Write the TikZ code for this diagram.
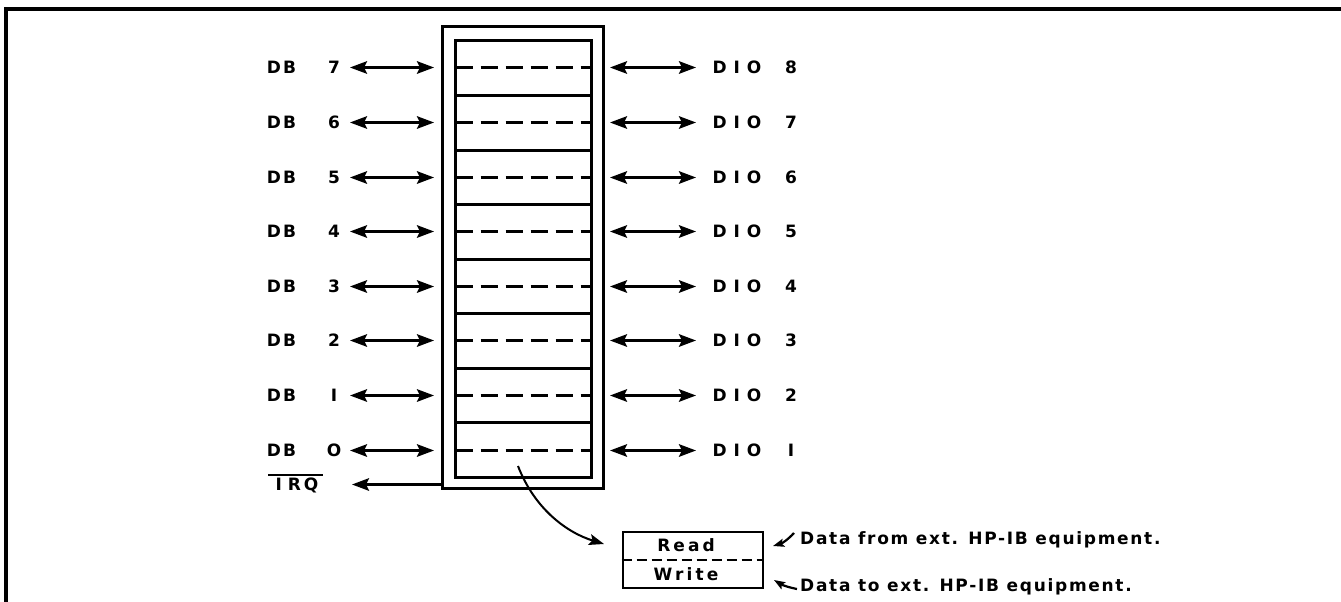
\documentclass[tikz,border=0pt]{standalone}
\usepackage{fontspec}
\setmainfont{DejaVu Sans}
\newfontfamily\letterfont{DejaVu Sans}
\newfontfamily\notefont[LetterSpace=10]{DejaVu Sans}
\newfontfamily\rwfont[LetterSpace=18]{DejaVu Sans}
\usetikzlibrary{arrows.meta}
\begin{document}
\begin{tikzpicture}[x=1pt,y=-1pt,
  lbl/.style={inner sep=0pt, font=\letterfont\bfseries\fontsize{17}{19}\selectfont, text height=12.4pt, text depth=0pt},
  note/.style={inner sep=0pt, anchor=west, font=\notefont\bfseries\fontsize{17}{20}\selectfont},
  rwtext/.style={inner sep=0pt, font=\rwfont\bfseries\fontsize{17}{20}\selectfont},
  bus/.style={line width=2.6pt, {Stealth[length=17pt,width=12.5pt,inset=3pt]}-{Stealth[length=17pt,width=12.5pt,inset=3pt]}},
  oneway/.style={line width=2.6pt, -{Stealth[length=17pt,width=12.5pt,inset=3pt]}},
  thin arrow/.style={line width=2pt, -{Stealth[length=15pt,width=11pt,inset=3pt]}},
  small arrow/.style={line width=2.2pt, -{Stealth[length=11pt,width=8pt,inset=2pt]}},
  cell/.style={line width=3pt},
  celldash/.style={line width=3pt, dash pattern=on 17pt off 8pt},
]
\useasboundingbox (0,0) rectangle (1341,602);
% outer frame
\draw[line width=4pt] (6,602) -- (6,9.5) -- (1341,9.5);
% register
\draw[line width=3pt] (442.5,26.5) rectangle (603.5,488.5);
\draw[line width=3pt] (455.5,40.5) rectangle (591.5,477.5);
\foreach \yy in {95.5,150.5,204.5,259.5,313.5,368.5,422.5}
  \draw[cell] (455.5,\yy) -- (591.5,\yy);
% labels and arrows
\foreach \yy/\db/\dio in {67.5/7/8,122.5/6/7,177.5/5/6,231.5/4/5,286.5/3/4,340.5/2/3,395.5/1/2,450.5/0/1}{
  \draw[celldash] (455.5,\yy) -- (591.5,\yy);
  \node[lbl] (db\db) at (281.5,\yy) {D\hspace{2pt}B};
  \node[lbl] (dbn\db) at (334,\yy) {\ifnum\db=1 I\else\ifnum\db=0 O\else\db\fi\fi};
  \coordinate (la\db) at (350,\yy);
  \coordinate (lb\db) at (434,\yy);
  \draw[bus] (la\db) -- (lb\db);
  \coordinate (ra\dio) at (610,\yy);
  \coordinate (rb\dio) at (696,\yy);
  \draw[bus] (ra\dio) -- (rb\dio);
  \node[lbl] (dio\dio) at (737,\yy) {D\hspace{7pt}I\hspace{7pt}O};
  \node[lbl] (dion\dio) at (791,\yy) {\ifnum\dio=1 I\else\dio\fi};
}
% IRQ
\node[lbl] (irq) at (297,484.5) {I\hspace{6pt}R\hspace{3pt}Q};
\draw[line width=2.2pt] (268,475) -- (323,475);
\coordinate (irqa) at (442,484.5);
\coordinate (irqb) at (352,484.5);
\draw[oneway] (irqa) -- (irqb);
% read/write box
\node[draw, line width=2.8pt, minimum width=140pt, minimum height=56pt, inner sep=0pt] (rw) at (693,560) {};
\draw[line width=2.4pt, dash pattern=on 10pt off 5pt] (rw.west) -- (rw.east);
\node[rwtext] (rd) at (686,545) {Read};
\node[rwtext] (wr) at (686,574) {Write};
% curved arrow from last cell
\coordinate (cs) at (518,466);
\coordinate (ce) at (604,544);
\draw[thin arrow] (cs) .. controls (535,510) and (568,533) .. (ce);
% notes
\node[note] (nfrom) at (800,540) {Data from ext. HP-IB equipment.};
\node[note] (nto) at (800,587) {Data to ext. HP-IB equipment.};
\coordinate (fa) at (794,533);
\coordinate (fb) at (773,546);
\draw[small arrow] (fa) to[bend left=15] (fb);
\coordinate (ta) at (797,589);
\coordinate (tb) at (774,580);
\draw[small arrow] (ta) to[bend left=10] (tb);
\end{tikzpicture}
\end{document}
